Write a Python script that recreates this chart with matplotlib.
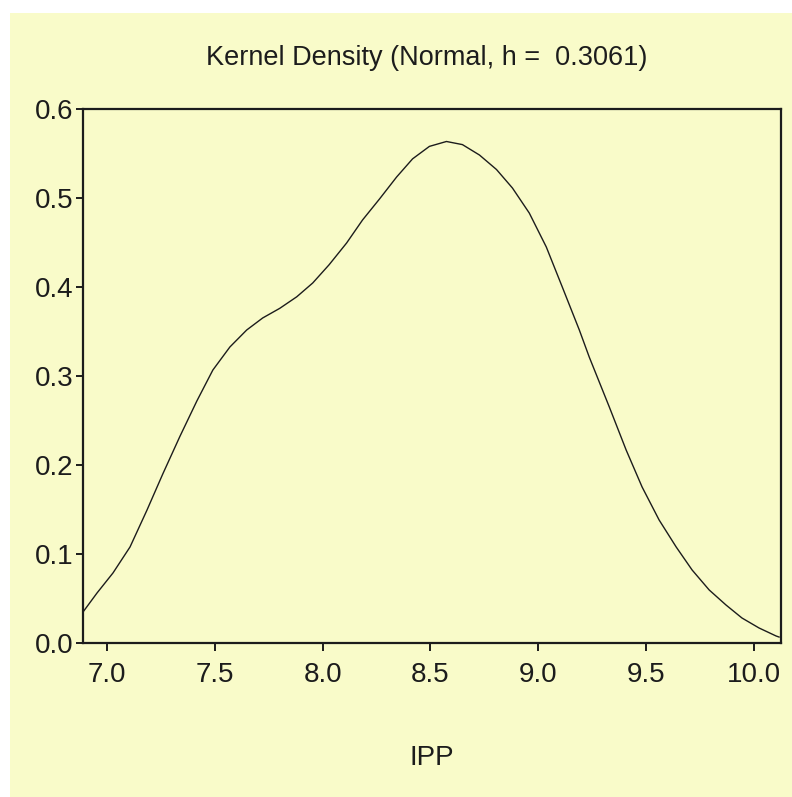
import matplotlib
matplotlib.use("Agg")
import matplotlib.pyplot as plt
from matplotlib.patches import Rectangle

# Kernel density of IPP
IPP = [6.889, 6.954, 7.028, 7.107, 7.185, 7.259, 7.338, 7.417, 7.491, 7.570,
       7.648, 7.722, 7.801, 7.880, 7.954, 8.030, 8.111, 8.185, 8.264, 8.343,
       8.417, 8.495, 8.574, 8.648, 8.727, 8.806, 8.880, 8.958, 9.037, 9.111,
       9.190, 9.236, 9.329, 9.407, 9.481, 9.560, 9.639, 9.713, 9.792, 9.870,
       9.944, 10.023, 10.102, 10.116]
DENSITY = [0.0348, 0.0562, 0.0787, 0.1079, 0.1490, 0.1900, 0.2320, 0.2720, 0.3067, 0.3326,
           0.3517, 0.3652, 0.3760, 0.3890, 0.4045, 0.4250, 0.4494, 0.4753, 0.4990, 0.5236,
           0.5440, 0.5580, 0.5635, 0.5600, 0.5483, 0.5320, 0.5112, 0.4831, 0.4449, 0.4000,
           0.3517, 0.3213, 0.2652, 0.2169, 0.1753, 0.1382, 0.1079, 0.0820, 0.0596, 0.0427,
           0.0281, 0.0169, 0.0079, 0.0067]

X_TICKS = [7.0, 7.5, 8.0, 8.5, 9.0, 9.5, 10.0]
Y_TICKS = [0.0, 0.1, 0.2, 0.3, 0.4, 0.5, 0.6]
TITLE = "Kernel Density (Normal, h =  0.3061)"
XLABEL = "IPP"

BG = "#f9fbc9"
INK = "#1c1c1c"

plt.rcParams["font.family"] = ["Liberation Sans", "DejaVu Sans"]

fig = plt.figure(figsize=(7.92, 7.97), dpi=100)
fig.patch.set_facecolor("white")
fig.patches.append(Rectangle((10 / 792, 0), 1, 1 - 13 / 797,
                             transform=fig.transFigure, facecolor=BG,
                             edgecolor="none", zorder=-10))

ax = fig.add_axes([83 / 792, 1 - 643 / 797, 698 / 792, 534 / 797])
ax.set_facecolor(BG)
ax.plot(IPP, DENSITY, color=INK, linewidth=1.0, solid_joinstyle="round")

ax.set_xlim(6.889, 10.125)
ax.set_ylim(0.0, 0.6)
ax.set_xticks(X_TICKS)
ax.set_xticklabels([f"{v:.1f}" for v in X_TICKS])
ax.set_yticks(Y_TICKS)
ax.set_yticklabels([f"{v:.1f}" for v in Y_TICKS])

for spine in ax.spines.values():
    spine.set_color(INK)
    spine.set_linewidth(1.6)
ax.tick_params(axis="x", direction="out", length=6, width=1.4, pad=8,
               labelsize=20, colors=INK)
ax.tick_params(axis="y", direction="out", length=5, width=1.4, pad=2,
               labelsize=20, colors=INK)

fig.text(427 / 792, 1 - 58 / 797, TITLE, ha="center", va="center",
         fontsize=19.5, color=INK)
fig.text(432 / 792, 1 - 758 / 797, XLABEL, ha="center", va="center",
         fontsize=20, color=INK)

fig.savefig("out.png", dpi=100, facecolor=fig.get_facecolor())
